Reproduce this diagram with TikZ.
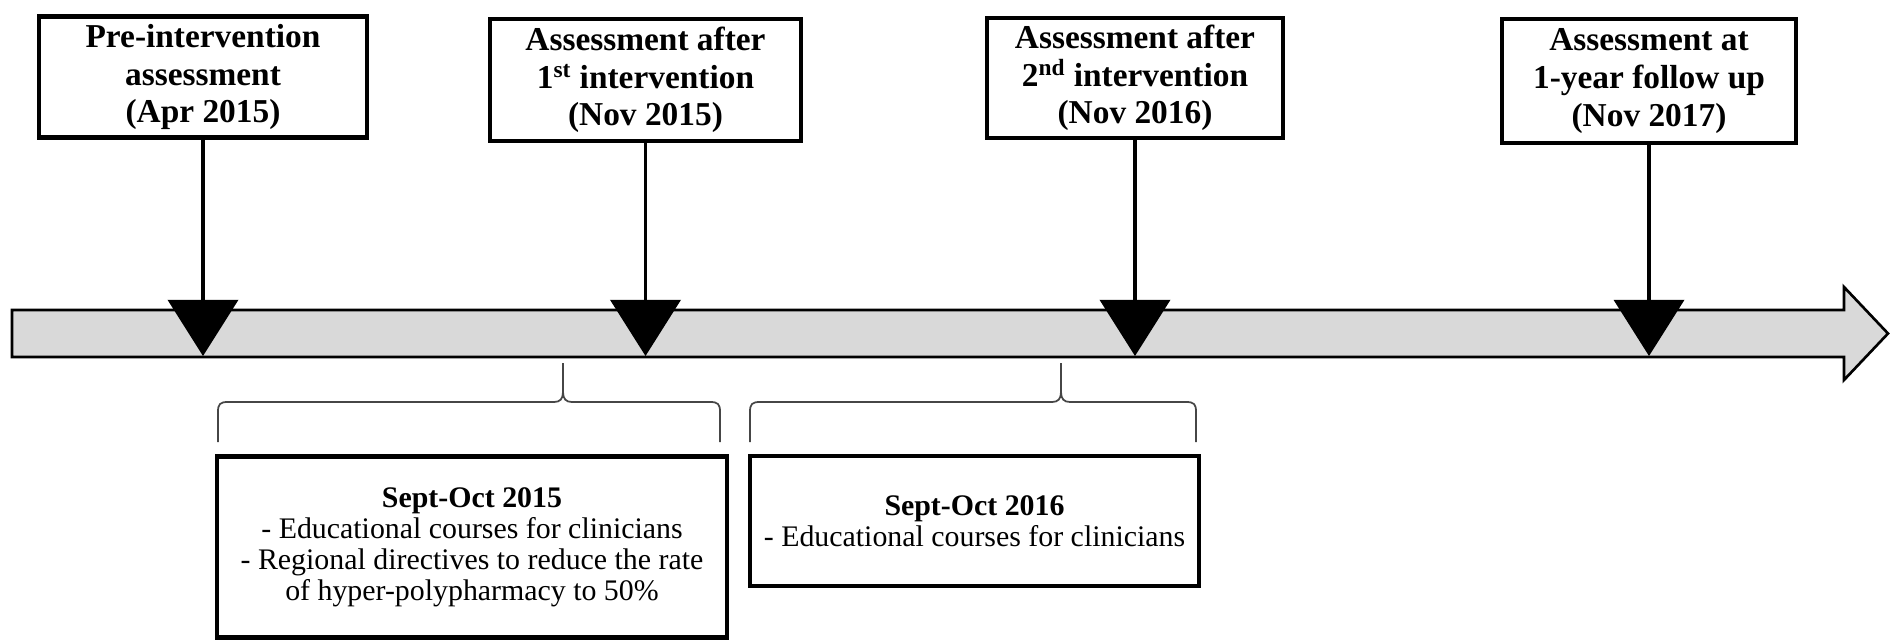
\documentclass[tikz,border=0pt]{standalone}
\usepackage{fontspec}
\setmainfont{Liberation Serif}
\usetikzlibrary{positioning,arrows.meta}

\tikzset{
  datebox/.style={draw, line width=2.6pt, align=center, inner sep=2pt,
    font=\fontsize{19}{21.5}\selectfont\bfseries},
  stepbox/.style={draw, line width=2.6pt, align=center, inner sep=2pt,
    font=\fontsize{17}{17.6}\selectfont},
  marker/.style={line width=1.8pt, -{Triangle[width=40pt,length=32pt]}},
  period/.style={draw=gray!55!black, line width=1pt},
}

% curly bracket: left end, tip, right end
\newcommand{\periodbrace}[3]{%
  \draw[period] (#1,442) -- (#1,412) .. controls (#1,404) and ({#1+2},402) .. ({#1+10},402)
    -- ({#2-9},402) .. controls ({#2-3},402) and (#2,399) .. (#2,392) -- (#2,363)
    -- (#2,392) .. controls (#2,399) and ({#2+3},402) .. ({#2+9},402)
    -- ({#3-10},402) .. controls ({#3-2},402) and (#3,404) .. (#3,412) -- (#3,442);}

\begin{document}
\begin{tikzpicture}[x=0.02cm, y=-0.02cm]
  \useasboundingbox (0,0) rectangle (1890,640);

  % timeline bar
  \draw[line width=1.5pt, fill=gray!30]
    (12,310) -- (1844,310) -- (1844,287) -- (1888,333.5)
    -- (1844,380) -- (1844,357) -- (12,357) -- cycle;

  % assessments
  \node[datebox, minimum width=6.56cm, minimum height=2.42cm] (b1) at (203,77)
    {Pre-intervention\\assessment\\(Apr 2015)};
  \node[datebox, minimum width=6.22cm, minimum height=2.44cm] (b2) at (645.5,80)
    {Assessment after\\1\textsuperscript{st} intervention\\(Nov 2015)};
  \node[datebox, minimum width=5.92cm, minimum height=2.40cm] (b3) at (1135,78)
    {Assessment after\\2\textsuperscript{nd} intervention\\(Nov 2016)};
  \node[datebox, minimum width=5.88cm, minimum height=2.48cm] (b4) at (1649,81)
    {Assessment at\\1-year follow up\\(Nov 2017)};

  \coordinate (t1) at (203,356);
  \coordinate (t2) at (645.5,356);
  \coordinate (t3) at (1135,356);
  \coordinate (t4) at (1649,356);

  \draw[marker] (b1.south) -- (t1);
  \draw[marker] (b2.south) -- (t2);
  \draw[marker] (b3.south) -- (t3);
  \draw[marker] (b4.south) -- (t4);

  % interventions
  \periodbrace{218}{563}{720}
  \periodbrace{750}{1061}{1196}

  \node[stepbox, minimum width=10.2cm, minimum height=3.62cm] (s1) at (472,547)
    {\textbf{Sept-Oct 2015}\\- Educational courses for clinicians\\
     - Regional directives to reduce the rate\\of hyper-polypharmacy to 50\%};
  \node[stepbox, minimum width=8.98cm, minimum height=2.6cm] (s2) at (974.5,521)
    {\textbf{Sept-Oct 2016}\\- Educational courses for clinicians};
\end{tikzpicture}
\end{document}
